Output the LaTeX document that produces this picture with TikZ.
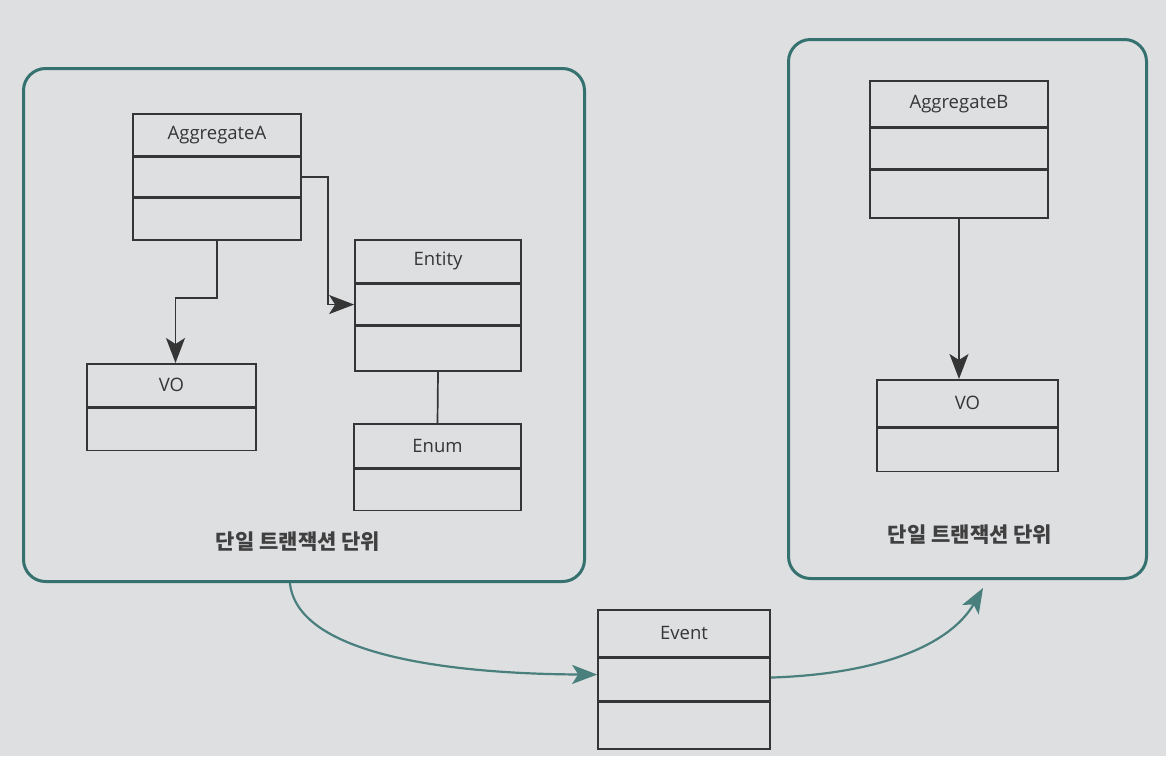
\documentclass[tikz,border=0pt]{standalone}
\usepackage{fontspec}
\setmainfont{Open Sans}
\newfontfamily\kr{Noto Sans CJK KR}
\usetikzlibrary{arrows.meta,positioning,calc}
\definecolor{bg}{HTML}{DEDFE1}
\definecolor{tealc}{HTML}{35716F}
\definecolor{ink}{HTML}{353535}
\begin{document}
\begin{tikzpicture}[x=1pt,y=-1pt,
  cell/.style={draw=ink, line width=1.7pt, rectangle, inner sep=0pt, anchor=north,
    font=\fontsize{18.5}{22}\selectfont, text=ink},
  frame/.style={draw=tealc, line width=3pt, rounded corners=22pt, rectangle, inner sep=0pt, anchor=north west},
  arr/.style={draw=ink, line width=1.7pt, -{Stealth[length=25pt,width=19pt,inset=6pt]}},
  tarr/.style={draw=tealc!90, line width=2.2pt, -{Stealth[length=25pt,width=19pt,inset=6pt]}},
  lbl/.style={font=\kr\bfseries\fontsize{21}{25}\selectfont, text=black!75}
]
\fill[bg] (0,0) rectangle (1166,756);
\useasboundingbox (0,0) rectangle (1166,756);

% frames
\node[frame, minimum width=561pt, minimum height=513pt] (frameA) at (22,67) {};
\node[frame, minimum width=358pt, minimum height=539pt] (frameB) at (787,38) {};

% AggregateA
\node[cell, minimum width=168pt, minimum height=42pt] (aggA1) at (217,113) {AggregateA};
\node[cell, minimum width=168pt, minimum height=39pt] (aggA2) at (aggA1.south) {};
\node[cell, minimum width=168pt, minimum height=42pt] (aggA3) at (aggA2.south) {};

% Entity
\node[cell, minimum width=166pt, minimum height=43pt] (ent1) at (438,239) {Entity};
\node[cell, minimum width=166pt, minimum height=40pt] (ent2) at (ent1.south) {};
\node[cell, minimum width=166pt, minimum height=45pt] (ent3) at (ent2.south) {};

% VO (A)
\node[cell, minimum width=169pt, minimum height=43pt] (voA1) at (171.5,363) {VO};
\node[cell, minimum width=169pt, minimum height=42pt] (voA2) at (voA1.south) {};

% Enum
\node[cell, minimum width=167pt, minimum height=44pt] (enum1) at (437.5,423) {Enum};
\node[cell, minimum width=167pt, minimum height=41pt] (enum2) at (enum1.south) {};

% AggregateB
\node[cell, minimum width=178pt, minimum height=46pt] (aggB1) at (959,80) {AggregateB};
\node[cell, minimum width=178pt, minimum height=40pt] (aggB2) at (aggB1.south) {};
\node[cell, minimum width=178pt, minimum height=48pt] (aggB3) at (aggB2.south) {};

% VO (B)
\node[cell, minimum width=181pt, minimum height=47pt] (voB1) at (967.5,379) {VO};
\node[cell, minimum width=181pt, minimum height=43pt] (voB2) at (voB1.south) {};

% Event
\node[cell, minimum width=172pt, minimum height=47pt] (ev1) at (684,609) {Event};
\node[cell, minimum width=172pt, minimum height=42pt] (ev2) at (ev1.south) {};
\node[cell, minimum width=172pt, minimum height=47pt] (ev3) at (ev2.south) {};

% labels
\node[lbl] (lblA) at (298,542) {단일 트랜잭션 단위};
\node[lbl] (lblB) at (970,535) {단일 트랜잭션 단위};

% connectors
\draw[arr] (aggA3.south) -- ++(0,57) -| ([xshift=4pt]voA1.north);
\draw[arr] (aggA2.east) -- ++(26,0) |- (ent2.west);
\draw[draw=ink, line width=1.7pt] (ent3.south) -- (enum1.north);
\draw[arr] (aggB3.south) -- (aggB3.south |- voB1.north);

\coordinate (outA) at ($(frameA.south west)!0.475!(frameA.south east)$);
\coordinate (inB) at (983,588);
\draw[tarr] (outA) .. controls (298,660) and (470,674) .. ([yshift=5pt]ev2.west);
\draw[tarr] ([yshift=2pt]ev2.east) .. controls (880,674) and (950,645) .. (inB);
\end{tikzpicture}
\end{document}
